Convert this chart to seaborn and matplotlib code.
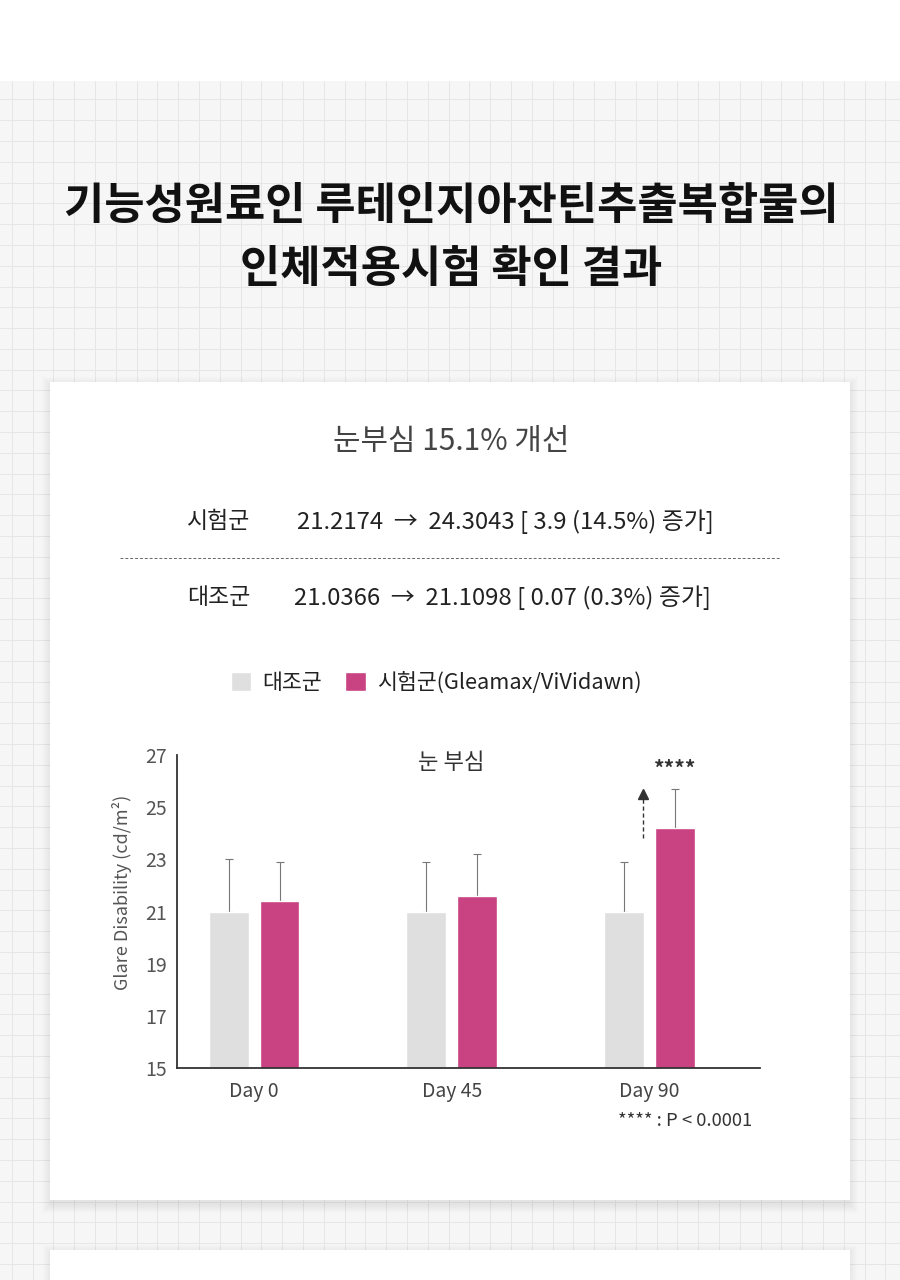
import pandas as pd
import numpy as np
import matplotlib
matplotlib.use('Agg')
import matplotlib.pyplot as plt
from matplotlib.patches import Rectangle
import seaborn as sns

# Data
days = ['Day 0', 'Day 45', 'Day 90']
groups = ['대조군', '시험군(Gleamax/ViVidawn)']
control_mean = [21.0, 21.0, 21.0]
test_mean = [21.4, 21.6, 24.2]
control_sd = [2.0, 1.9, 1.9]
test_sd = [1.5, 1.6, 1.5]
y_ticks = [15, 17, 19, 21, 23, 25, 27]

title_lines = ['기능성원료인 루테인지아잔틴추출복합물의', '인체적용시험 확인 결과']
subtitle = '눈부심 15.1% 개선'
row_labels = ['시험군', '대조군']
row_texts = ['21.2174  →  24.3043 [ 3.9 (14.5%) 증가]',
             '21.0366  →  21.1098 [ 0.07 (0.3%) 증가]']

grey = '#dfdfdf'
magenta = '#c94282'

df = pd.DataFrame({
    'day': days * 2,
    'group': [groups[0]] * 3 + [groups[1]] * 3,
    'value': control_mean + test_mean,
})

sns.set_theme(style='white')
plt.rcParams['font.family'] = ['Noto Sans CJK KR', 'DejaVu Sans']

fig = plt.figure(figsize=(9, 12.8), dpi=100)
fig.patch.set_facecolor('white')

# Background layer in pixel coordinates
bg = fig.add_axes([0, 0, 1, 1], zorder=0)
bg.set_xlim(0, 900)
bg.set_ylim(1280, 0)
bg.axis('off')
bg.add_patch(Rectangle((0, 81), 900, 1200, color='#f6f6f6', lw=0, zorder=0.1))
bg.vlines(np.arange(11.7, 900, 20.8), 81, 1280, color='#e6e6e6', lw=0.7, zorder=0.5)
bg.hlines(np.arange(99.3, 1280, 20.8), 0, 900, color='#e6e6e6', lw=0.7, zorder=0.5)

# card shadow + cards
for i in range(9):
    bg.add_patch(Rectangle((50 - i, 385 - i), 800 + 2 * i, 820 + 2 * i,
                           color='black', alpha=0.008, lw=0, zorder=1))
bg.add_patch(Rectangle((50, 382), 800, 818, color='white', lw=0, zorder=1))
for i in range(8):
    bg.add_patch(Rectangle((50 - i, 1252 - i), 800 + 2 * i, 60,
                           color='black', alpha=0.007, lw=0, zorder=1))
bg.add_patch(Rectangle((50, 1250), 800, 40, color='white', lw=0, zorder=1))

# Headline
bg.text(451, 206, title_lines[0], ha='center', va='center', fontsize=31.5,
        fontweight='bold', color='#111111')
bg.text(451, 269, title_lines[1], ha='center', va='center', fontsize=31.5,
        fontweight='bold', color='#111111')

bg.text(451, 441, subtitle, ha='center', va='center', fontsize=21.5, color='#444444')

bg.text(187, 522, row_labels[0], ha='left', va='center', fontsize=16.5, color='#222222')
bg.text(297, 522, row_texts[0], ha='left', va='center', fontsize=17.2, color='#222222')
bg.plot([120, 780], [558, 558], color='#666666', lw=0.7, ls=(0, (3, 2)), zorder=2)
bg.text(187, 598, row_labels[1], ha='left', va='center', fontsize=16.5, color='#222222')
bg.text(294, 598, row_texts[1], ha='left', va='center', fontsize=17.2, color='#222222')

bg.text(752, 1121, '**** : P < 0.0001', ha='right', va='center', fontsize=13.3, color='#333333')

# Bar chart
ax = fig.add_axes([177 / 900, 1 - 1068 / 1280, (760 - 177) / 900, (1068 - 755) / 1280], zorder=1)
ax.patch.set_alpha(0)
sns.barplot(data=df, x='day', y='value', hue='group', palette=[grey, magenta],
            width=0.515, gap=0.215, errorbar=None, saturation=1, ax=ax)

for container, sds in zip(ax.containers, [control_sd, test_sd]):
    for bar, s in zip(container, sds):
        cx = bar.get_x() + bar.get_width() / 2
        ax.errorbar(cx, bar.get_height(), yerr=[[0], [s]], color='#777777',
                    elinewidth=0.8, capsize=3, capthick=0.8, zorder=0.5)

ax.set_ylim(15, 27)
ax.set_yticks(y_ticks)
ax.set_xlim(-0.39, 2.56)
sns.despine(ax=ax)
for sp in ['left', 'bottom']:
    ax.spines[sp].set_color('#333333')
    ax.spines[sp].set_linewidth(1.3)
ax.tick_params(axis='y', direction='out', length=4, width=1, color='#333333',
               labelsize=14, labelcolor='#555555', pad=3)
ax.tick_params(axis='x', length=0, labelsize=14, labelcolor='#444444', pad=9)
ax.set_xlabel('')
ax.set_ylabel('Glare Disability (cd/m²)', fontsize=13, color='#555555')
ax.yaxis.set_label_coords(-0.078, 0.562)

ax.text(1, 26.7, '눈 부심', ha='center', va='center', fontsize=16, color='#333333')

# significance marker on Day 90
b90 = ax.containers[1][2]
star_x = b90.get_x() + b90.get_width() / 2
ax.text(star_x, 26.45, '****', ha='center', va='center', fontsize=15,
        fontweight='bold', color='#333333')
arrow_x = 2 - 0.03
ax.vlines(arrow_x, 23.8, 25.4, color='#333333', lw=1, ls=(0, (3, 2)))
ax.plot([arrow_x], [25.5], marker='^', markersize=7, color='#333333')

sns.move_legend(ax, 'center', bbox_to_anchor=(436 / 900, 1 - 683 / 1280),
                bbox_transform=fig.transFigure, ncol=2, frameon=False, title=None,
                fontsize=15.6, handlelength=0.95, handleheight=0.95,
                handletextpad=0.5, columnspacing=1.1)
for t in ax.get_legend().get_texts():
    t.set_color('#222222')

fig.savefig('out.png', dpi=100)
